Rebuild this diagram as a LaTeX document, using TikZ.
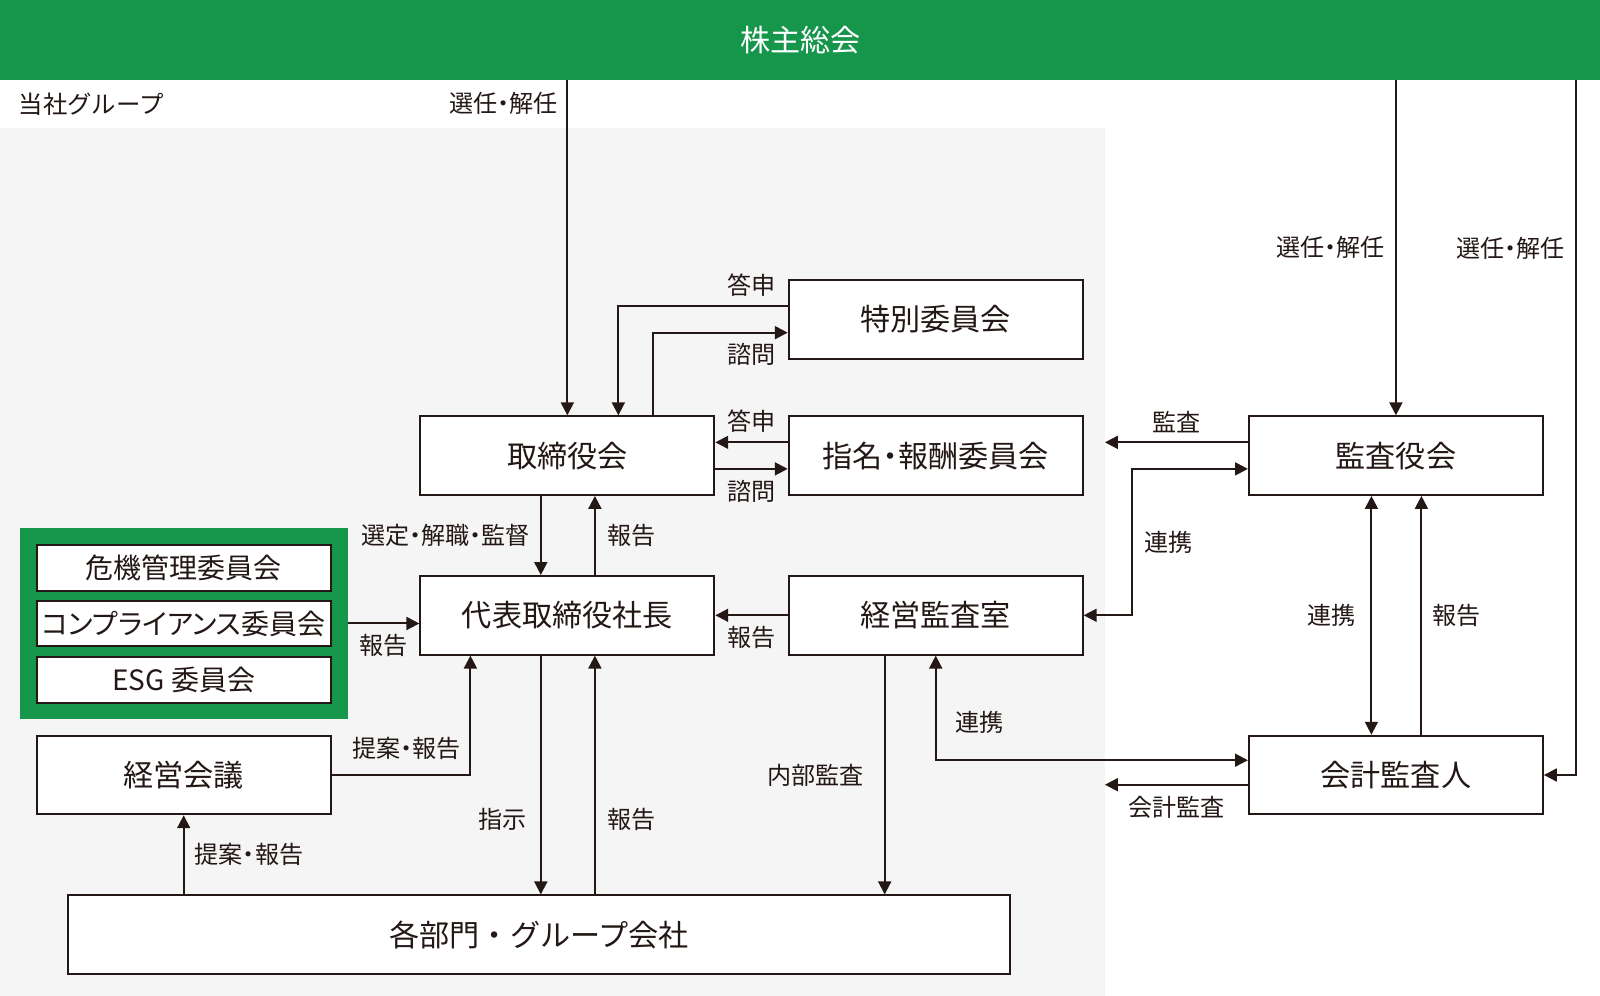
\documentclass[tikz,border=0pt]{standalone}
\usepackage{fontspec}
\setmainfont{Noto Sans CJK JP}
\newfontfamily\jpprop{Noto Sans CJK JP}[RawFeature=+palt]
\usetikzlibrary{arrows.meta,calc,positioning}
\definecolor{ink}{HTML}{231815}
\definecolor{soukai}{HTML}{15964B}
\definecolor{groupbg}{HTML}{F5F5F5}
\begin{document}
\begin{tikzpicture}[x=0.025cm,y=-0.025cm,
	box/.style={draw=ink,line width=1.4pt,fill=white,text=ink,inner sep=0pt,minimum width=7.2cm,minimum height=1.925cm,font=\fontsize{21}{25}\selectfont},
	subbox/.style={box,minimum height=1.125cm,font=\fontsize{19.5}{23}\selectfont},
	lbl/.style={text=ink,inner sep=0pt,font=\jpprop\fontsize{16.8}{20}\selectfont},
	link/.style={draw=ink,line width=1.4pt,->},
	>={Triangle[length=9pt,width=9pt]}]
	\useasboundingbox (0,0) rectangle (1568,976);
	\node[fill=groupbg,anchor=north west,inner sep=0pt,minimum width=27.05cm,minimum height=21.275cm] (GRP) at (0,125) {};
	\node[fill=soukai,anchor=north west,inner sep=0pt,minimum width=39.2cm,minimum height=1.95cm,text=white,font=\fontsize{21}{25}\selectfont] (GM) at (0,0) {株主総会};
	\node[lbl,anchor=west,font=\fontsize{17}{20}\selectfont] (tousha) at (18,102) {当社グループ};
	\node[box] (SP) at (917,313) {特別委員会};
	\node[box] (TB) at (556,446.5) {取締役会};
	\node[box,font=\jpprop\fontsize{21}{25}\selectfont] (NR) at (917,446.5) {指名・報酬委員会};
	\node[box] (KY) at (1368,446.5) {監査役会};
	\node[box] (CEO) at (556,603) {代表取締役社長};
	\node[box] (KE) at (917,603) {経営監査室};
	\node[box] (KA) at (1368,759.5) {会計監査人};
	\node[box] (KK) at (180,759.5) {経営会議};
	\node[box,minimum width=23.075cm] (BU) at (528.5,916) {各部門・グループ会社};
	\node[fill=soukai,inner sep=0pt,minimum width=8.025cm,minimum height=4.7cm] (CG) at (180.5,611) {};
	\node[subbox] (RM) at (180,556.5) {危機管理委員会};
	\node[subbox,font=\jpprop\fontsize{19.5}{23}\selectfont] (CP) at (180,611) {コンプライアンス委員会};
	\node[subbox] (ESG) at (180,666) {ESG 委員会};
	\draw[link] (GM.south -| TB.north) -- (TB.north) node[lbl,pos=0.07,left=6pt] {選任・解任};
	\draw[link] (GM.south -| KY.north) -- (KY.north) node[lbl,midway,left=7pt] {選任・解任};
	\draw[link] ($(GM.south -| KA.east)+(31,0)$) |- (KA.east) node[lbl,pos=0.121,left=7pt] {選任・解任};
	\draw[link] ($(SP.west)+(0,-13)$) -| ($(TB.north)+(50,0)$) node[lbl,pos=0.108,above=6pt] {答申};
	\draw[link] ($(TB.north)+(84,0)$) |- ($(SP.west)+(0,13)$) node[lbl,pos=0.865,below=7pt] {諮問};
	\draw[link] ($(NR.west)+(0,-13)$) -- ($(TB.east)+(0,-13)$) node[lbl,midway,above=6pt] {答申};
	\draw[link] ($(TB.east)+(0,13)$) -- ($(NR.west)+(0,13)$) node[lbl,midway,below=7pt] {諮問};
	\draw[link] ($(KY.west)+(0,-13)$) coordinate (kansa) -- (kansa -| GRP.east) node[lbl,midway,above=6pt] {監査};
	\draw[link,<->] ($(KY.west)+(0,13)$) -| ($(KE.east)+(47,0)$) node[lbl,pos=0.75,right=8pt] {連携} -- (KE.east);
	\draw[link] ($(TB.south)+(-26,0)$) -- ($(CEO.north)+(-26,0)$) node[lbl,midway,left=7pt] {選定・解職・監督};
	\draw[link] ($(CEO.north)+(27,0)$) -- ($(TB.south)+(27,0)$) node[lbl,midway,right=8pt] {報告};
	\draw[link] (KE.west) -- (CEO.east) node[lbl,midway,below=7pt] {報告};
	\draw[link] (CG.east) -- (CG.east -| CEO.west) node[lbl,midway,below=7pt] {報告};
	\draw[link] (KK.east) -| ($(CEO.south)+(-95,0)$) node[lbl,pos=0.5,above left=10pt and 6pt] {提案・報告};
	\draw[link] (BU.north -| KK.south) -- (KK.south) node[lbl,midway,right=7pt] {提案・報告};
	\draw[link] ($(CEO.south)+(-26,0)$) coordinate (shiji) -- (shiji |- BU.north) node[lbl,pos=0.686,left=9pt] {指示};
	\path ($(CEO.south)+(27,0)$) coordinate (bu2ceo);
	\draw[link] (bu2ceo |- BU.north) -- (bu2ceo) node[lbl,pos=0.314,right=8pt] {報告};
	\draw[link] ($(KE.south)+(-50,0)$) coordinate (naibu) -- (naibu |- BU.north) node[lbl,midway,left=14pt] {内部監査};
	\draw[link,<->] ($(KA.west)+(0,-14.5)$) -| (KE.south) node[lbl,pos=0.683,right=13pt] {連携};
	\draw[link] ($(KA.west)+(0,9.5)$) coordinate (kaikei) -- (kaikei -| GRP.east) node[lbl,midway,below=7pt] {会計監査};
	\draw[link,<->] ($(KY.south)+(-24,0)$) -- ($(KA.north)+(-24,0)$) node[lbl,midway,left=10pt] {連携};
	\draw[link] ($(KA.north)+(25,0)$) -- ($(KY.south)+(25,0)$) node[lbl,midway,right=7pt] {報告};
\end{tikzpicture}
\end{document}
